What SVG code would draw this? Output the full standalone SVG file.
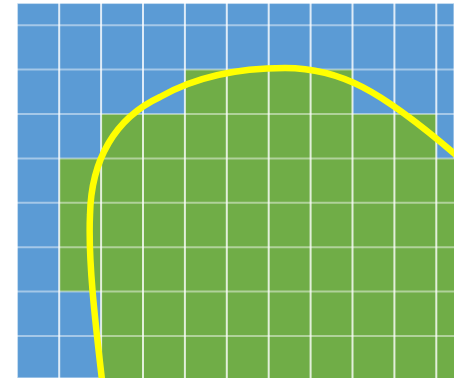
<svg xmlns="http://www.w3.org/2000/svg" width="454" height="378" viewBox="0 0 454 378">
  <style>
    .v { stroke: #ffffff; stroke-opacity: 0.8; stroke-width: 2; }
    .h { stroke: #ffffff; stroke-opacity: 0.45; stroke-width: 2; }
  </style>
  <rect x="0" y="0" width="454" height="378" fill="#ffffff"/>
  <rect id="water" x="17.3" y="3.3" width="436.7" height="374.7" fill="#5B9BD5" stroke="#ffffff" stroke-opacity="0.5" stroke-width="1.5"/>
  <path id="land" d="M184.9 69.6 H352.5 V114 H436.3 V158.4 H454 V378 H101.1 V291.6 H59.2 V158.4 H101.1 V114 H184.9 Z" fill="#70AD47"/>
  <g id="grid">
    <line class="v" x1="59.2" y1="3" x2="59.2" y2="378"/>
    <line class="v" x1="101.1" y1="3" x2="101.1" y2="378"/>
    <line class="v" x1="143" y1="3" x2="143" y2="378"/>
    <line class="v" x1="184.9" y1="3" x2="184.9" y2="378"/>
    <line class="v" x1="226.8" y1="3" x2="226.8" y2="378"/>
    <line class="v" x1="268.7" y1="3" x2="268.7" y2="378"/>
    <line class="v" x1="310.6" y1="3" x2="310.6" y2="378"/>
    <line class="v" x1="352.5" y1="3" x2="352.5" y2="378"/>
    <line class="v" x1="394.4" y1="3" x2="394.4" y2="378"/>
    <line class="v" x1="436.3" y1="3" x2="436.3" y2="378"/>
    <line class="h" x1="17" y1="25.2" x2="454" y2="25.2"/>
    <line class="h" x1="17" y1="69.6" x2="454" y2="69.6"/>
    <line class="h" x1="17" y1="114" x2="454" y2="114"/>
    <line class="h" x1="17" y1="158.4" x2="454" y2="158.4"/>
    <line class="h" x1="17" y1="202.8" x2="454" y2="202.8"/>
    <line class="h" x1="17" y1="247.2" x2="454" y2="247.2"/>
    <line class="h" x1="17" y1="291.6" x2="454" y2="291.6"/>
    <line class="h" x1="17" y1="336" x2="454" y2="336"/>
  </g>
  <path id="coastline" d="M102 380 C95 320 88 260 90 215 C91 160 115 118 160 97 C195 77 240 68 285 68 C340 68 380 90 456 155" fill="none" stroke="#FFFF00" stroke-width="6.5"/>
</svg>
